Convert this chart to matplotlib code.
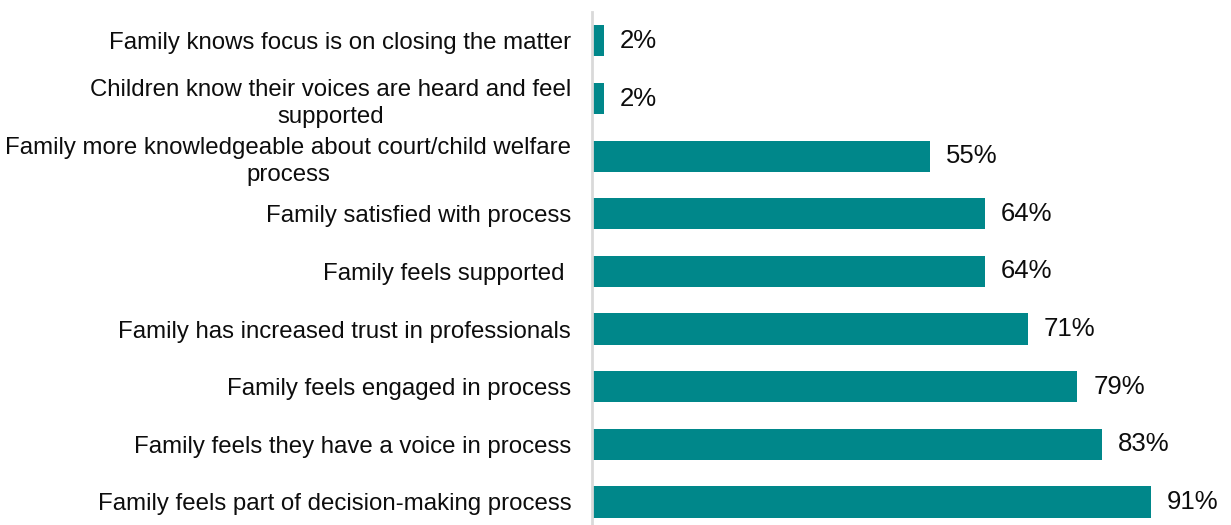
import matplotlib
matplotlib.use('Agg')
import matplotlib.pyplot as plt

plt.rcParams['font.family'] = ['Liberation Sans', 'DejaVu Sans']

# categories listed from top to bottom
categories = [
    'Family knows focus is on closing the matter',
    'Children know their voices are heard and feel\nsupported',
    'Family more knowledgeable about court/child welfare\nprocess',
    'Family satisfied with process',
    'Family feels supported ',
    'Family has increased trust in professionals',
    'Family feels engaged in process',
    'Family feels they have a voice in process',
    'Family feels part of decision-making process',
]
percents = [2, 2, 55, 64, 64, 71, 79, 83, 91]

bar_color = '#00878A'

fig = plt.figure(figsize=(12.31, 5.25), dpi=100)
ax = fig.add_axes([0.4809, 0.0, 0.499, 0.977])

positions = list(range(len(categories)))
bars = ax.barh(positions, percents, height=0.54, color=bar_color)

for y, v in zip(positions, percents):
    ax.annotate(f'{v}%', xy=(v, y), xytext=(11.5, 0), textcoords='offset points',
                ha='left', va='center', fontsize=18.5, color='#0D0D0D')

ax.set_xlim(0, 100)
ax.set_ylim(8.4, -0.5)
ax.set_yticks(positions)
ax.set_yticklabels(categories, fontsize=17.3, color='#0D0D0D',
                   multialignment='center', linespacing=1.32)
ax.tick_params(axis='y', length=0, pad=15)
ax.set_xticks([])

for side in ['top', 'right', 'bottom']:
    ax.spines[side].set_visible(False)
ax.spines['left'].set_color('#D9D9D9')
ax.spines['left'].set_linewidth(2.0)

fig.savefig('out.png', dpi=100)
